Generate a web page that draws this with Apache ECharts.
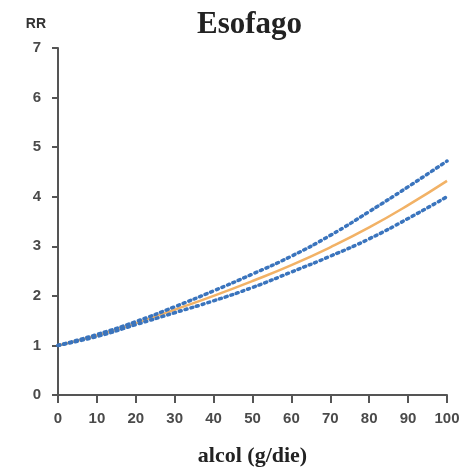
<!DOCTYPE html>
<html>
<head>
<meta charset="utf-8">
<script src="https://cdn.jsdelivr.net/npm/echarts@6/dist/echarts.min.js"></script>
<style>
  html, body { margin: 0; padding: 0; background: #fff; }
  #chart { width: 465px; height: 472px; }
</style>
</head>
<body>
<div id="chart"></div>
<script>
// Alcohol intake (g/day) and relative risk of oesophageal cancer
var alcohol = [0, 10, 20, 30, 40, 50, 60, 70, 80, 90, 100];
var rrCentral = [1.0, 1.2, 1.45, 1.72, 2.0, 2.3, 2.62, 2.98, 3.38, 3.83, 4.32];
var rrUpper = [1.0, 1.22, 1.48, 1.78, 2.1, 2.44, 2.8, 3.22, 3.7, 4.2, 4.72];
var rrLower = [1.0, 1.18, 1.42, 1.66, 1.9, 2.17, 2.48, 2.8, 3.15, 3.56, 4.0];
var xTicks = [0, 10, 20, 30, 40, 50, 60, 70, 80, 90, 100];
var yTicks = [0, 1, 2, 3, 4, 5, 6, 7];

function pairs(ys) {
  return alcohol.map(function (x, i) { return [x, ys[i]]; });
}

var axisGray = '#555';
var labelStyle = { color: '#4a4a4a', fontFamily: 'Liberation Sans', fontWeight: 'bold', fontSize: 15 };
var ciStyle = { color: '#3a74bd', width: 3.5, type: [2, 4], cap: 'round' };

var chart = echarts.init(document.getElementById('chart'));
chart.setOption({
  backgroundColor: '#fff',
  animation: false,
  title: {
    text: 'Esofago',
    left: 192,
    top: 4,
    textStyle: { fontFamily: 'Liberation Serif', fontWeight: 'bold', fontSize: 31, color: '#222' }
  },
  grid: { left: 58, right: 18, top: 48, bottom: 74 },
  xAxis: {
    type: 'value',
    min: xTicks[0],
    max: xTicks[xTicks.length - 1],
    interval: 10,
    offset: 5,
    name: 'alcol (g/die)',
    nameLocation: 'middle',
    nameGap: 45,
    nameTextStyle: { fontFamily: 'Liberation Serif', fontWeight: 'bold', fontSize: 22, color: '#222' },
    axisLine: { lineStyle: { color: axisGray, width: 2 } },
    axisTick: { length: 8, lineStyle: { color: axisGray, width: 2 } },
    axisLabel: Object.assign({ margin: 11 }, labelStyle),
    splitLine: { show: false }
  },
  yAxis: {
    type: 'value',
    min: yTicks[0],
    max: yTicks[yTicks.length - 1],
    interval: 1,
    offset: 4,
    name: 'RR',
    nameLocation: 'end',
    nameGap: 17,
    nameTextStyle: { fontFamily: 'Liberation Sans', fontWeight: 'bold', fontSize: 14, color: '#333', align: 'right', padding: [0, 12, 0, 0] },
    axisLine: { show: true, lineStyle: { color: axisGray, width: 2 } },
    axisTick: { show: true, length: 6, lineStyle: { color: axisGray, width: 2 } },
    axisLabel: Object.assign({ margin: 13 }, labelStyle),
    splitLine: { show: false }
  },
  series: [
    {
      name: 'upper',
      type: 'line',
      smooth: true,
      symbol: 'none',
      data: pairs(rrUpper),
      lineStyle: ciStyle,
      z: 3
    },
    {
      name: 'lower',
      type: 'line',
      smooth: true,
      symbol: 'none',
      data: pairs(rrLower),
      lineStyle: ciStyle,
      z: 3
    },
    {
      name: 'RR',
      type: 'line',
      smooth: true,
      symbol: 'none',
      data: pairs(rrCentral),
      lineStyle: { color: '#f2b266', width: 2.5 },
      z: 2
    }
  ]
});
</script>
</body>
</html>
